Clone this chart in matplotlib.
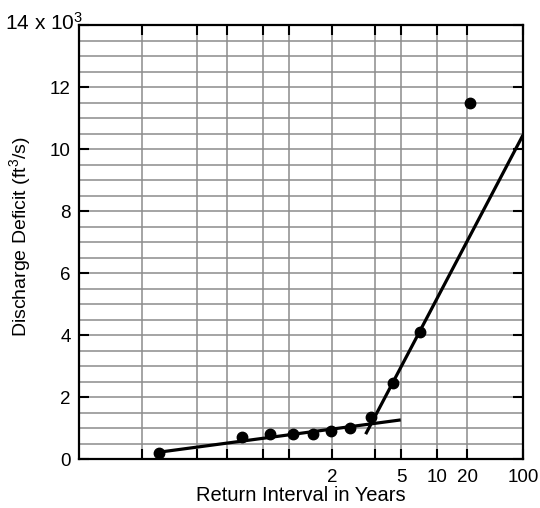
import matplotlib
matplotlib.use("Agg")
import matplotlib.pyplot as plt
import numpy as np
from statistics import NormalDist
from matplotlib.ticker import FixedLocator, MultipleLocator, FixedFormatter

plt.rcParams['font.family'] = ['Liberation Sans', 'DejaVu Sans']
plt.rcParams['mathtext.fontset'] = 'custom'
plt.rcParams['mathtext.rm'] = 'Liberation Sans'
plt.rcParams['mathtext.it'] = 'Liberation Sans:italic'

# plotting positions (non-exceedance probability) and discharge deficits, ft3/s
obs_prob = [0.0174, 0.136, 0.223, 0.315, 0.406, 0.494, 0.586, 0.680, 0.769, 0.859, 0.954]
obs_deficit = [200, 730, 820, 810, 820, 900, 1000, 1370, 2470, 4100, 11490]

# two fitted segments
low_prob = [0.0174, 0.798]
low_deficit = [230, 1270]
high_prob = [0.658, 0.99]
high_deficit = [810, 10460]

# return interval labels and extra grid positions
label_years = [2, 5, 10, 20, 100]
extra_grid_prob = [0.01, 0.05, 0.1, 0.2, 0.3, 0.7]

y_ticks = [0, 2000, 4000, 6000, 8000, 10000, 12000, 14000]
y_labels = ['0', '2', '4', '6', '8', '10', '12', '']
top_label = r'14 x 10$^{3}$'

nd = NormalDist()
_ppf = np.vectorize(lambda p: nd.inv_cdf(p), otypes=[float])
_cdf = np.vectorize(lambda z: nd.cdf(z), otypes=[float])


def fwd(p):
    p = np.clip(np.asarray(p, dtype=float), 1e-9, 1 - 1e-9)
    return _ppf(p)


def inv(z):
    return _cdf(np.asarray(z, dtype=float))


fig = plt.figure(figsize=(5.4, 5.08), dpi=100)
ax = fig.add_axes([0.1463, 0.0959, 0.8222, 0.8543])
ax.set_xscale('function', functions=(fwd, inv))

ax.plot(low_prob, low_deficit, color='black', lw=2.3, solid_capstyle='butt', zorder=3)
ax.plot(high_prob, high_deficit, color='black', lw=2.3, solid_capstyle='butt', zorder=3)
ax.plot(obs_prob, obs_deficit, 'o', color='black', ms=7.5, zorder=4)

ax.set_xlim(0.001, 0.99)
ax.set_ylim(0, 14000)

major_p = [1 - 1 / t for t in label_years]
ax.xaxis.set_major_locator(FixedLocator(major_p))
ax.xaxis.set_major_formatter(FixedFormatter([str(t) for t in label_years]))
ax.xaxis.set_minor_locator(FixedLocator(extra_grid_prob))

ax.yaxis.set_major_locator(FixedLocator(y_ticks))
ax.yaxis.set_major_formatter(FixedFormatter(y_labels))
ax.yaxis.set_minor_locator(MultipleLocator(500))

ax.grid(True, which='both', color='#8c8c8c', lw=1.1, zorder=1)
ax.set_axisbelow(True)

ax.tick_params(axis='both', which='both', direction='in', length=7, width=1.5,
               labelsize=13.5, top=True, right=True)
ax.tick_params(axis='y', which='minor', length=0)
ax.tick_params(axis='y', which='major', pad=6)
ax.tick_params(axis='x', which='major', pad=7)
for s in ax.spines.values():
    s.set_linewidth(1.6)

ax.annotate(top_label, xy=(0, 1), xycoords='axes fraction', xytext=(3, -3.4),
            textcoords='offset points', ha='right', va='baseline', fontsize=15)

ax.set_xlabel('Return Interval in Years', fontsize=14.5, labelpad=0)
ax.set_ylabel(r'Discharge Deficit (ft$^{3}$/s)', fontsize=14)
ax.yaxis.set_label_coords(-0.104, 0.513)

fig.savefig('out.png', dpi=100)
